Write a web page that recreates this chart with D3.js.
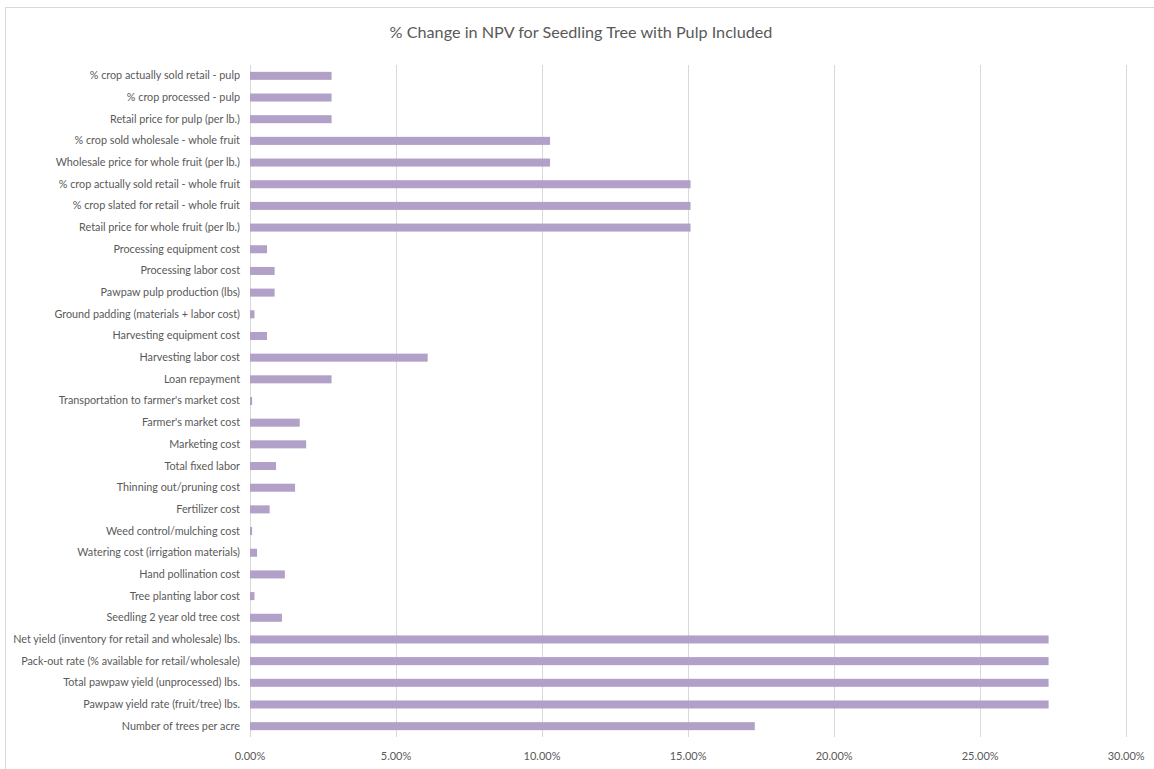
<!DOCTYPE html>
<html>
<head>
<meta charset="utf-8">
<script src="https://cdn.jsdelivr.net/npm/d3@7"></script>
<style>
  html, body { margin: 0; padding: 0; background: #fff; }
  svg { display: block; }
</style>
</head>
<body>
<svg id="chart" width="1154" height="769"></svg>
<script>
// Categories (top to bottom)
const categories = [
  "% crop actually sold retail - pulp",
  "% crop processed - pulp",
  "Retail price for pulp (per lb.)",
  "% crop sold wholesale - whole fruit",
  "Wholesale price for whole fruit (per lb.)",
  "% crop actually sold retail - whole fruit",
  "% crop slated for retail - whole fruit",
  "Retail price for whole fruit (per lb.)",
  "Processing equipment cost",
  "Processing labor cost",
  "Pawpaw pulp production (lbs)",
  "Ground padding (materials + labor cost)",
  "Harvesting equipment cost",
  "Harvesting labor cost",
  "Loan repayment",
  "Transportation to farmer's market cost",
  "Farmer's market cost",
  "Marketing cost",
  "Total fixed labor",
  "Thinning out/pruning cost",
  "Fertilizer cost",
  "Weed control/mulching cost",
  "Watering cost (irrigation materials)",
  "Hand pollination cost",
  "Tree planting labor cost",
  "Seedling 2 year old tree cost",
  "Net yield (inventory for retail and wholesale) lbs.",
  "Pack-out rate (% available for retail/wholesale)",
  "Total pawpaw yield (unprocessed) lbs.",
  "Pawpaw yield rate (fruit/tree) lbs.",
  "Number of trees per acre"
];
// % change in NPV (fraction)
const values = [
  0.0281, 0.0281, 0.0281,
  0.1029, 0.1029,
  0.1510, 0.1510, 0.1510,
  0.0060, 0.0086, 0.0086, 0.0017, 0.0060,
  0.0610, 0.0281, 0.0009,
  0.0172, 0.0194, 0.0091, 0.0156, 0.0069,
  0.0009, 0.0026, 0.0121, 0.0017, 0.0111,
  0.2736, 0.2736, 0.2736, 0.2736,
  0.1730
];
const tickValues = [0, 0.05, 0.10, 0.15, 0.20, 0.25, 0.30];
const title = "% Change in NPV for Seedling Tree with Pulp Included";

const svg = d3.select("#chart");
const fontFam = "Lato, 'DejaVu Sans Condensed', sans-serif";
const textColor = "#595959";

// chart border
svg.append("rect")
  .attr("x", 5.5).attr("y", 7.5)
  .attr("width", 1160).attr("height", 780)
  .attr("fill", "none").attr("stroke", "#d9d9d9").attr("stroke-width", 1);

const x = d3.scaleLinear().domain([0, 0.30]).range([249.5, 1125.7]);
const y = d3.scaleBand().domain(categories).range([65, 737]).paddingInner(0.63).paddingOuter(0.315);

// gridlines
svg.append("g").selectAll("line").data(tickValues).join("line")
  .attr("x1", d => Math.round(x(d)) + 0.5).attr("x2", d => Math.round(x(d)) + 0.5)
  .attr("y1", 65).attr("y2", 737)
  .attr("stroke", "#d9d9d9").attr("stroke-width", 1);

// bars
svg.append("g").selectAll("rect").data(categories).join("rect")
  .attr("x", x(0) + 0.5)
  .attr("y", d => y(d))
  .attr("width", (d, i) => x(values[i]) - x(0) - 0.5)
  .attr("height", y.bandwidth())
  .attr("fill", "#b1a0c7");

// x axis tick labels
const xAxis = d3.axisBottom(x).tickValues(tickValues).tickFormat(d3.format(".2%")).tickSize(0);
const gx = svg.append("g").attr("transform", "translate(0,749)").call(xAxis);
gx.select(".domain").remove();
gx.selectAll("text").attr("font-family", fontFam).attr("font-size", 11).attr("fill", textColor);

// y labels
const yAxis = d3.axisLeft(y).tickSize(0).tickPadding(0);
const gy = svg.append("g").attr("transform", "translate(240,0)").call(yAxis);
gy.select(".domain").remove();
gy.selectAll("text").attr("font-family", fontFam).attr("font-size", 10.8).attr("fill", textColor);

// title
svg.append("text")
  .attr("x", 581).attr("y", 38)
  .attr("text-anchor", "middle")
  .attr("font-family", fontFam).attr("font-size", 16.2)
  .attr("fill", textColor)
  .text(title);
</script>
</body>
</html>
